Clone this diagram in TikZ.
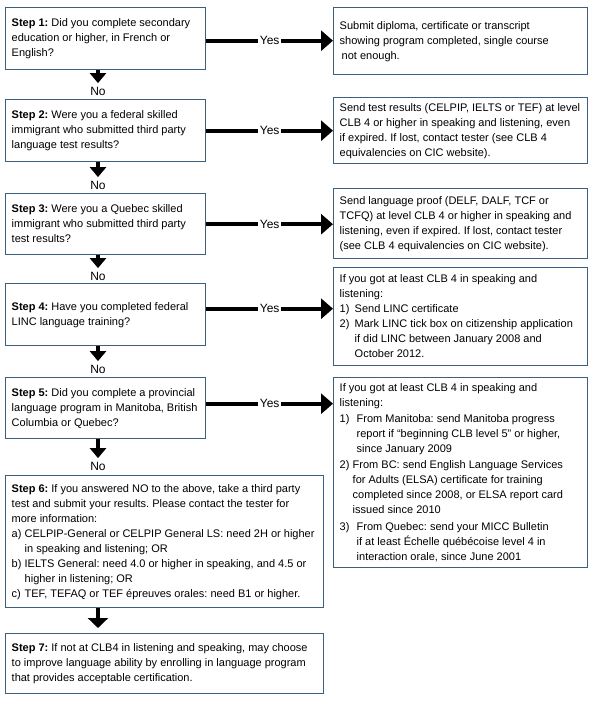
\documentclass[tikz,border=0pt]{standalone}
\usepackage{fontspec}
\setmainfont{Liberation Sans}
\usetikzlibrary{arrows.meta}
\definecolor{boxblue}{RGB}{63,95,127}
\frenchspacing
\newcommand\lbl[2][15pt]{\makebox[#1][l]{#2}}
\newcommand\ind[1][15pt]{\hspace*{#1}}
\newcommand\boxlines[2]{\makebox[#1][l]{\begin{tabular}{@{}l@{}}#2\end{tabular}}}

\begin{document}
\begin{tikzpicture}[
        x=1pt, y=-1pt,
        box/.style={draw=boxblue, line width=1.4pt, align=left, inner xsep=6pt,
                    inner ysep=0pt, anchor=north west},
        qbox/.style={box, font=\fontsize{11}{15}\selectfont},
        abox/.style={box, font=\fontsize{11}{15}\selectfont},
        yarr/.style={-{Triangle[length=12pt, width=20pt]}, line width=4pt},
        narr/.style={-{Triangle[length=10pt, width=16pt]}, line width=4pt},
        lab/.style={font=\fontsize{12}{14}\selectfont, inner sep=3.5pt},
        yes/.style={lab, fill=white, inner sep=2pt}
    ]
    \useasboundingbox (0,0) rectangle (595,705);
    \node[qbox, minimum height=62pt] (s1) at (5,7)
        {\boxlines{188pt}{\textbf{Step 1:} Did you complete secondary\\education or higher, in French or\\English?}};
    \node[qbox, minimum height=62pt] (s2) at (5,99)
        {\boxlines{188pt}{\textbf{Step 2:} Were you a federal skilled\\immigrant who submitted third party\\language test results?}};
    \node[qbox, minimum height=61pt] (s3) at (5,193)
        {\boxlines{188pt}{\textbf{Step 3:} Were you a Quebec skilled\\immigrant who submitted third party\\test results?}};
    \node[qbox, minimum height=62pt] (s4) at (5,283)
        {\boxlines{188pt}{\textbf{Step 4:} Have you completed federal\\LINC language training?}};
    \node[qbox, minimum height=61pt] (s5) at (5,377)
        {\boxlines{188pt}{\textbf{Step 5:} Did you complete a provincial\\language program in Manitoba, British\\Columbia or Quebec?}};
    \node[qbox, minimum height=132pt] (s6) at (5,475)
        {\boxlines{306pt}{\textbf{Step 6:} If you answered NO to the above, take a third party\\
         test and submit your results. Please contact the tester for\\
         more information:\\
         \lbl[13pt]{a)}CELPIP-General or CELPIP General LS: need 2H or higher\\
         \ind[13pt]in speaking and listening; OR\\
         \lbl[13pt]{b)}IELTS General: need 4.0 or higher in speaking, and 4.5 or\\
         \ind[13pt]higher in listening; OR\\
         \lbl[13pt]{c)}TEF, TEFAQ or TEF épreuves orales: need B1 or higher.}};
    \node[qbox, minimum height=60pt] (s7) at (5,633)
        {\boxlines{306pt}{\textbf{Step 7:} If not at CLB4 in listening and speaking, may choose\\
         to improve language ability by enrolling in language program\\
         that provides acceptable certification.}};
    \node[abox, minimum height=67pt] (r1) at (333,7)
        {\boxlines{242pt}{Submit diploma, certificate or transcript\\showing program completed, single course\\\hspace*{2pt}not enough.}};
    \node[abox, minimum height=66pt] (r2) at (333,97)
        {\boxlines{242pt}{Send test results (CELPIP, IELTS or TEF) at level\\CLB 4 or higher in speaking and listening, even\\
         if expired. If lost, contact tester (see CLB 4\\equivalencies on CIC website).}};
    \node[abox, minimum height=70pt] (r3) at (333,188)
        {\boxlines{242pt}{Send language proof (DELF, DALF, TCF or\\TCFQ) at level CLB 4 or higher in speaking and\\
         listening, even if expired. If lost, contact tester\\(see CLB 4 equivalencies on CIC website).}};
    \node[abox, minimum height=98pt] (r4) at (333,267)
        {\boxlines{242pt}{If you got at least CLB 4 in speaking and\\listening:\\
         \lbl{1)}Send LINC certificate\\
         \lbl{2)}Mark LINC tick box on citizenship application\\
         \ind if did LINC between January 2008 and\\
         \ind October 2012.}};
    \node[abox, minimum height=190pt] (r5) at (333,377)
        {\boxlines{242pt}{If you got at least CLB 4 in speaking and\\listening:\\[1pt]
         \lbl[17pt]{1)}From Manitoba: send Manitoba progress\\
         \ind[17pt]report if “beginning CLB level 5” or higher,\\
         \ind[17pt]since January 2009\\[1.5pt]
         \lbl[13pt]{2)}From BC: send English Language Services\\
         \ind[13pt]for Adults (ELSA) certificate for training\\
         \ind[13pt]completed since 2008, or ELSA report card\\
         \ind[13pt]issued since 2010\\[1.5pt]
         \lbl[17pt]{3)}From Quebec: send your MICC Bulletin\\
         \ind[17pt]if at least Échelle québécoise level 4 in\\
         \ind[17pt]interaction orale, since June 2001}};
    \node[lab] (n1) at (98,91) {No};
    \node[lab] (n2) at (98,185) {No};
    \node[lab] (n3) at (98,276) {No};
    \node[lab] (n4) at (98,369) {No};
    \node[lab] (n5) at (98,466) {No};
    \draw[narr] (s1.south -| n1) -- (n1.north);
    \draw[narr] (s2.south -| n2) -- (n2.north);
    \draw[narr] (s3.south -| n3) -- (n3.north);
    \draw[narr] (s4.south -| n4) -- (n4.north);
    \draw[narr] (s5.south -| n5) -- (n5.north);
    \draw[-{Triangle[length=10pt, width=20pt]}, line width=4pt, shorten >=5pt]
        (s6.south -| n5) -- (s7.north -| n5);
    \draw[yarr] ([yshift=-2pt]s1.east) -- ([yshift=-2pt]s1.east -| r1.west) node[midway, yes] {Yes};
    \draw[yarr] (s2.east) -- (s2.east -| r2.west) node[midway, yes] {Yes};
    \draw[yarr] (s3.east) -- (s3.east -| r3.west) node[midway, yes] {Yes};
    \draw[yarr] ([yshift=6pt]s4.east) -- ([yshift=6pt]s4.east -| r4.west) node[midway, yes] {Yes};
    \draw[yarr] ([yshift=4.5pt]s5.east) -- ([yshift=4.5pt]s5.east -| r5.west) node[midway, yes] {Yes};
\end{tikzpicture}
\end{document}
